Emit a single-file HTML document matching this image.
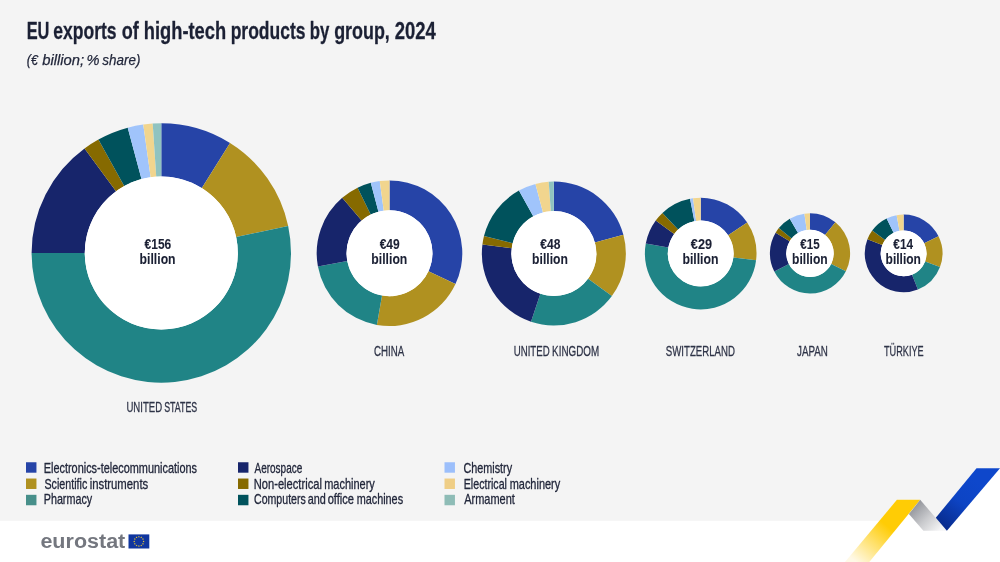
<!DOCTYPE html>
<html lang="en">
<head>
<meta charset="utf-8">
<title>EU exports of high-tech products by group, 2024</title>
<style>
html,body{margin:0;padding:0;background:#ffffff;}
body{width:1000px;height:562px;overflow:hidden;}
svg{display:block;}
svg text{font-family:"Liberation Sans",sans-serif;}
</style>
</head>
<body>
<svg width="1000" height="562" viewBox="0 0 1000 562">
<defs>
<linearGradient id="gy" gradientUnits="userSpaceOnUse" x1="886" y1="525" x2="855" y2="561">
<stop offset="0" stop-color="#FFCC05"/><stop offset="1" stop-color="#FFF9E6"/>
</linearGradient>
<linearGradient id="gg" gradientUnits="userSpaceOnUse" x1="913" y1="507" x2="938" y2="532">
<stop offset="0" stop-color="#94969C"/><stop offset="0.5" stop-color="#C9CACD"/><stop offset="1" stop-color="#F5F5F6"/>
</linearGradient>
<linearGradient id="gb" gradientUnits="userSpaceOnUse" x1="975" y1="480" x2="940" y2="526">
<stop offset="0" stop-color="#0E47CB"/><stop offset="0.45" stop-color="#0D44C4"/><stop offset="1" stop-color="#082A8A"/>
</linearGradient>
</defs>
<rect x="0" y="0" width="1000" height="562" fill="#ffffff"/>
<!-- grey chart panel, cut along the ribbon -->
<path d="M0 0H1000V468.3H976.5L935.8 517.7L920.2 499.8H896.9L879.4 520.8H0Z" fill="#F4F4F4"/>
<!-- ribbon -->
<path d="M896.9 499.8H920.2L869.3 562H845Z" fill="url(#gy)"/>
<path d="M920.2 499.8L946.9 530.7H923.4L908.9 514.1Z" fill="url(#gg)"/>
<path d="M976.5 468.3H1000L946.9 530.7L935.8 517.7Z" fill="url(#gb)"/>
<g class="donut" id="d-us">
<circle cx="161.3" cy="253.0" r="129.20" fill="#ffffff"/>
<path d="M161.30 123.30A129.70 129.70 0 0 1 230.03 143.01L201.85 188.10A76.52 76.52 0 0 0 161.30 176.48Z" fill="#2644A7"/>
<path d="M230.03 143.01A129.70 129.70 0 0 1 288.17 226.03L236.15 237.09A76.52 76.52 0 0 0 201.85 188.10Z" fill="#B09120"/>
<path d="M288.17 226.03A129.70 129.70 0 1 1 31.60 253.00L84.78 253.00A76.52 76.52 0 1 0 236.15 237.09Z" fill="#208486"/>
<path d="M31.60 253.00A129.70 129.70 0 0 1 84.52 148.47L116.00 191.33A76.52 76.52 0 0 0 84.78 253.00Z" fill="#17256B"/>
<path d="M84.52 148.47A129.70 129.70 0 0 1 98.42 139.56L124.20 186.07A76.52 76.52 0 0 0 116.00 191.33Z" fill="#866A00"/>
<path d="M98.42 139.56A129.70 129.70 0 0 1 127.73 127.72L141.49 179.08A76.52 76.52 0 0 0 124.20 186.07Z" fill="#00525C"/>
<path d="M127.73 127.72A129.70 129.70 0 0 1 143.25 124.56L150.65 177.22A76.52 76.52 0 0 0 141.49 179.08Z" fill="#A0C4FB"/>
<path d="M143.25 124.56A129.70 129.70 0 0 1 152.70 123.59L156.23 176.65A76.52 76.52 0 0 0 150.65 177.22Z" fill="#F1D58E"/>
<path d="M152.70 123.59A129.70 129.70 0 0 1 161.30 123.30L161.30 176.48A76.52 76.52 0 0 0 156.23 176.65Z" fill="#90C3C0"/>
<circle cx="161.3" cy="253.0" r="76.52" fill="#ffffff"/>
</g>
<g class="donut" id="d-cn">
<circle cx="389.5" cy="253.2" r="72.30" fill="#ffffff"/>
<path d="M389.50 180.40A72.80 72.80 0 0 1 455.48 283.97L428.43 271.35A42.95 42.95 0 0 0 389.50 210.25Z" fill="#2644A7"/>
<path d="M455.48 283.97A72.80 72.80 0 0 1 376.86 324.89L382.04 295.50A42.95 42.95 0 0 0 428.43 271.35Z" fill="#B09120"/>
<path d="M376.86 324.89A72.80 72.80 0 0 1 317.92 266.47L347.27 261.03A42.95 42.95 0 0 0 382.04 295.50Z" fill="#208486"/>
<path d="M317.92 266.47A72.80 72.80 0 0 1 342.22 197.84L361.60 220.54A42.95 42.95 0 0 0 347.27 261.03Z" fill="#17256B"/>
<path d="M342.22 197.84A72.80 72.80 0 0 1 357.59 187.77L370.67 214.59A42.95 42.95 0 0 0 361.60 220.54Z" fill="#866A00"/>
<path d="M357.59 187.77A72.80 72.80 0 0 1 370.78 182.85L378.46 211.69A42.95 42.95 0 0 0 370.67 214.59Z" fill="#00525C"/>
<path d="M370.78 182.85A72.80 72.80 0 0 1 379.75 181.06L383.75 210.64A42.95 42.95 0 0 0 378.46 211.69Z" fill="#A0C4FB"/>
<path d="M379.75 181.06A72.80 72.80 0 0 1 389.50 180.40L389.50 210.25A42.95 42.95 0 0 0 383.75 210.64Z" fill="#F1D58E"/>

<circle cx="389.5" cy="253.2" r="42.95" fill="#ffffff"/>
</g>
<g class="donut" id="d-uk">
<circle cx="553.85" cy="253.5" r="71.50" fill="#ffffff"/>
<path d="M553.85 181.50A72.00 72.00 0 0 1 623.40 234.87L594.88 242.51A42.48 42.48 0 0 0 553.85 211.02Z" fill="#2644A7"/>
<path d="M623.40 234.87A72.00 72.00 0 0 1 611.88 296.12L588.09 278.65A42.48 42.48 0 0 0 594.88 242.51Z" fill="#B09120"/>
<path d="M611.88 296.12A72.00 72.00 0 0 1 531.00 321.78L540.37 293.78A42.48 42.48 0 0 0 588.09 278.65Z" fill="#208486"/>
<path d="M531.00 321.78A72.00 72.00 0 0 1 482.42 244.48L511.70 248.18A42.48 42.48 0 0 0 540.37 293.78Z" fill="#17256B"/>
<path d="M482.42 244.48A72.00 72.00 0 0 1 483.99 236.08L512.63 243.22A42.48 42.48 0 0 0 511.70 248.18Z" fill="#866A00"/>
<path d="M483.99 236.08A72.00 72.00 0 0 1 518.94 190.53L533.26 216.35A42.48 42.48 0 0 0 512.63 243.22Z" fill="#00525C"/>
<path d="M518.94 190.53A72.00 72.00 0 0 1 535.46 183.89L543.00 212.43A42.48 42.48 0 0 0 533.26 216.35Z" fill="#A0C4FB"/>
<path d="M535.46 183.89A72.00 72.00 0 0 1 548.70 181.68L550.81 211.13A42.48 42.48 0 0 0 543.00 212.43Z" fill="#F1D58E"/>
<path d="M548.70 181.68A72.00 72.00 0 0 1 553.85 181.50L553.85 211.02A42.48 42.48 0 0 0 550.81 211.13Z" fill="#90C3C0"/>
<circle cx="553.85" cy="253.5" r="42.48" fill="#ffffff"/>
</g>
<g class="donut" id="d-ch">
<circle cx="700.7" cy="253.5" r="55.30" fill="#ffffff"/>
<path d="M700.70 197.70A55.80 55.80 0 0 1 747.18 222.62L728.12 235.28A32.92 32.92 0 0 0 700.70 220.58Z" fill="#2644A7"/>
<path d="M747.18 222.62A55.80 55.80 0 0 1 756.08 260.30L733.38 257.51A32.92 32.92 0 0 0 728.12 235.28Z" fill="#B09120"/>
<path d="M756.08 260.30A55.80 55.80 0 1 1 645.80 243.52L668.31 247.61A32.92 32.92 0 1 0 733.38 257.51Z" fill="#208486"/>
<path d="M645.80 243.52A55.80 55.80 0 0 1 655.73 220.47L674.17 234.01A32.92 32.92 0 0 0 668.31 247.61Z" fill="#17256B"/>
<path d="M655.73 220.47A55.80 55.80 0 0 1 662.43 212.89L678.12 229.54A32.92 32.92 0 0 0 674.17 234.01Z" fill="#866A00"/>
<path d="M662.43 212.89A55.80 55.80 0 0 1 690.05 198.73L694.42 221.18A32.92 32.92 0 0 0 678.12 229.54Z" fill="#00525C"/>
<path d="M690.05 198.73A55.80 55.80 0 0 1 693.03 198.23L696.18 220.89A32.92 32.92 0 0 0 694.42 221.18Z" fill="#A0C4FB"/>
<path d="M693.03 198.23A55.80 55.80 0 0 1 700.70 197.70L700.70 220.58A32.92 32.92 0 0 0 696.18 220.89Z" fill="#F1D58E"/>

<circle cx="700.7" cy="253.5" r="32.92" fill="#ffffff"/>
</g>
<g class="donut" id="d-jp">
<circle cx="810.0" cy="253.35" r="39.60" fill="#ffffff"/>
<path d="M810.00 213.25A40.10 40.10 0 0 1 835.40 222.32L824.99 235.04A23.66 23.66 0 0 0 810.00 229.69Z" fill="#2644A7"/>
<path d="M835.40 222.32A40.10 40.10 0 0 1 845.86 271.31L831.15 263.94A23.66 23.66 0 0 0 824.99 235.04Z" fill="#B09120"/>
<path d="M845.86 271.31A40.10 40.10 0 0 1 774.27 271.56L788.92 264.09A23.66 23.66 0 0 0 831.15 263.94Z" fill="#208486"/>
<path d="M774.27 271.56A40.10 40.10 0 0 1 775.63 232.70L789.72 241.16A23.66 23.66 0 0 0 788.92 264.09Z" fill="#17256B"/>
<path d="M775.63 232.70A40.10 40.10 0 0 1 778.84 228.11L791.61 238.46A23.66 23.66 0 0 0 789.72 241.16Z" fill="#866A00"/>
<path d="M778.84 228.11A40.10 40.10 0 0 1 789.77 218.73L798.06 232.92A23.66 23.66 0 0 0 791.61 238.46Z" fill="#00525C"/>
<path d="M789.77 218.73A40.10 40.10 0 0 1 804.42 213.64L806.71 229.92A23.66 23.66 0 0 0 798.06 232.92Z" fill="#A0C4FB"/>
<path d="M804.42 213.64A40.10 40.10 0 0 1 810.00 213.25L810.00 229.69A23.66 23.66 0 0 0 806.71 229.92Z" fill="#F1D58E"/>

<circle cx="810.0" cy="253.35" r="23.66" fill="#ffffff"/>
</g>
<g class="donut" id="d-tr">
<circle cx="903.6" cy="253.4" r="38.35" fill="#ffffff"/>
<path d="M903.60 214.55A38.85 38.85 0 0 1 938.52 236.37L924.20 243.35A22.92 22.92 0 0 0 903.60 230.48Z" fill="#2644A7"/>
<path d="M938.52 236.37A38.85 38.85 0 0 1 939.97 267.07L925.06 261.46A22.92 22.92 0 0 0 924.20 243.35Z" fill="#B09120"/>
<path d="M939.97 267.07A38.85 38.85 0 0 1 917.90 289.52L912.04 274.71A22.92 22.92 0 0 0 925.06 261.46Z" fill="#208486"/>
<path d="M917.90 289.52A38.85 38.85 0 0 1 867.43 239.22L882.26 245.04A22.92 22.92 0 0 0 912.04 274.71Z" fill="#17256B"/>
<path d="M867.43 239.22A38.85 38.85 0 0 1 872.21 230.51L885.08 239.89A22.92 22.92 0 0 0 882.26 245.04Z" fill="#866A00"/>
<path d="M872.21 230.51A38.85 38.85 0 0 1 886.63 218.45L893.59 232.78A22.92 22.92 0 0 0 885.08 239.89Z" fill="#00525C"/>
<path d="M886.63 218.45A38.85 38.85 0 0 1 896.65 215.18L899.50 230.85A22.92 22.92 0 0 0 893.59 232.78Z" fill="#A0C4FB"/>
<path d="M896.65 215.18A38.85 38.85 0 0 1 903.60 214.55L903.60 230.48A22.92 22.92 0 0 0 899.50 230.85Z" fill="#F1D58E"/>

<circle cx="903.6" cy="253.4" r="22.92" fill="#ffffff"/>
</g>
<g id="labels">
<text y="39.2" font-size="24" font-weight="bold" font-style="normal" fill="#1b2034" stroke="#1b2034" stroke-width="0.3" stroke-linejoin="round"><tspan x="26.64" textLength="22.77" lengthAdjust="spacingAndGlyphs">EU</tspan> <tspan x="53.28" textLength="63.35" lengthAdjust="spacingAndGlyphs">exports</tspan> <tspan x="121.79" textLength="17.03" lengthAdjust="spacingAndGlyphs">of</tspan> <tspan x="143.81" textLength="82.35" lengthAdjust="spacingAndGlyphs">high-tech</tspan> <tspan x="230.68" textLength="74.82" lengthAdjust="spacingAndGlyphs">products</tspan> <tspan x="309.72" textLength="19.62" lengthAdjust="spacingAndGlyphs">by</tspan> <tspan x="334.17" textLength="55.61" lengthAdjust="spacingAndGlyphs">group,</tspan> <tspan x="394.63" textLength="41.07" lengthAdjust="spacingAndGlyphs">2024</tspan></text>
<text y="65.2" font-size="15.1" font-weight="normal" font-style="italic" fill="#22273b" stroke="#22273b" stroke-width="0.25" stroke-linejoin="round"><tspan x="26.87" textLength="11.12" lengthAdjust="spacingAndGlyphs">(€</tspan> <tspan x="42.2" textLength="41.95" lengthAdjust="spacingAndGlyphs">billion;</tspan> <tspan x="86.46" textLength="13.02" lengthAdjust="spacingAndGlyphs">%</tspan> <tspan x="102.35" textLength="38.1" lengthAdjust="spacingAndGlyphs">share)</tspan></text>
<text y="412" font-size="15.1" font-weight="normal" font-style="normal" fill="#2e3347" stroke="#2e3347" stroke-width="0.3" stroke-linejoin="round"><tspan x="126.44" textLength="35.62" lengthAdjust="spacingAndGlyphs">UNITED</tspan> <tspan x="164.18" textLength="33.05" lengthAdjust="spacingAndGlyphs">STATES</tspan></text>
<text y="356" font-size="15.1" font-weight="normal" font-style="normal" fill="#2e3347" stroke="#2e3347" stroke-width="0.3" stroke-linejoin="round"><tspan x="374.03" textLength="30.24" lengthAdjust="spacingAndGlyphs">CHINA</tspan></text>
<text y="356" font-size="15.1" font-weight="normal" font-style="normal" fill="#2e3347" stroke="#2e3347" stroke-width="0.3" stroke-linejoin="round"><tspan x="513.7" textLength="35.94" lengthAdjust="spacingAndGlyphs">UNITED</tspan> <tspan x="552.1" textLength="46.98" lengthAdjust="spacingAndGlyphs">KINGDOM</tspan></text>
<text y="356" font-size="15.1" font-weight="normal" font-style="normal" fill="#2e3347" stroke="#2e3347" stroke-width="0.3" stroke-linejoin="round"><tspan x="665.82" textLength="69.14" lengthAdjust="spacingAndGlyphs">SWITZERLAND</tspan></text>
<text y="356" font-size="15.1" font-weight="normal" font-style="normal" fill="#2e3347" stroke="#2e3347" stroke-width="0.3" stroke-linejoin="round"><tspan x="797.11" textLength="30.81" lengthAdjust="spacingAndGlyphs">JAPAN</tspan></text>
<text y="356" font-size="15.1" font-weight="normal" font-style="normal" fill="#2e3347" stroke="#2e3347" stroke-width="0.3" stroke-linejoin="round"><tspan x="884.02" textLength="39.69" lengthAdjust="spacingAndGlyphs">TÜRKIYE</tspan></text>
<text y="249.4" font-size="14.4" font-weight="bold" font-style="normal" fill="#1b2034" stroke="#1b2034" stroke-width="0.08" stroke-linejoin="round"><tspan x="144.56" textLength="26.68" lengthAdjust="spacingAndGlyphs">€156</tspan></text>
<text y="264" font-size="14.6" font-weight="bold" font-style="normal" fill="#1b2034" stroke="#1b2034" stroke-width="0.08" stroke-linejoin="round"><tspan x="139.62" textLength="35.95" lengthAdjust="spacingAndGlyphs">billion</tspan></text>
<text y="249.4" font-size="14.4" font-weight="bold" font-style="normal" fill="#1b2034" stroke="#1b2034" stroke-width="0.08" stroke-linejoin="round"><tspan x="379.67" textLength="20.12" lengthAdjust="spacingAndGlyphs">€49</tspan></text>
<text y="264" font-size="14.6" font-weight="bold" font-style="normal" fill="#1b2034" stroke="#1b2034" stroke-width="0.08" stroke-linejoin="round"><tspan x="371.35" textLength="35.96" lengthAdjust="spacingAndGlyphs">billion</tspan></text>
<text y="249.4" font-size="14.4" font-weight="bold" font-style="normal" fill="#1b2034" stroke="#1b2034" stroke-width="0.08" stroke-linejoin="round"><tspan x="540.32" textLength="20.08" lengthAdjust="spacingAndGlyphs">€48</tspan></text>
<text y="264" font-size="14.6" font-weight="bold" font-style="normal" fill="#1b2034" stroke="#1b2034" stroke-width="0.08" stroke-linejoin="round"><tspan x="532.1" textLength="35.79" lengthAdjust="spacingAndGlyphs">billion</tspan></text>
<text y="249.4" font-size="14.4" font-weight="bold" font-style="normal" fill="#1b2034" stroke="#1b2034" stroke-width="0.08" stroke-linejoin="round"><tspan x="690.8" textLength="21.24" lengthAdjust="spacingAndGlyphs">€29</tspan></text>
<text y="264" font-size="14.6" font-weight="bold" font-style="normal" fill="#1b2034" stroke="#1b2034" stroke-width="0.08" stroke-linejoin="round"><tspan x="682.39" textLength="36.15" lengthAdjust="spacingAndGlyphs">billion</tspan></text>
<text y="249.4" font-size="14.4" font-weight="bold" font-style="normal" fill="#1b2034" stroke="#1b2034" stroke-width="0.08" stroke-linejoin="round"><tspan x="800.33" textLength="19.28" lengthAdjust="spacingAndGlyphs">€15</tspan></text>
<text y="264" font-size="14.6" font-weight="bold" font-style="normal" fill="#1b2034" stroke="#1b2034" stroke-width="0.08" stroke-linejoin="round"><tspan x="792.1" textLength="35.6" lengthAdjust="spacingAndGlyphs">billion</tspan></text>
<text y="249.4" font-size="14.4" font-weight="bold" font-style="normal" fill="#1b2034" stroke="#1b2034" stroke-width="0.08" stroke-linejoin="round"><tspan x="893.32" textLength="19.7" lengthAdjust="spacingAndGlyphs">€14</tspan></text>
<text y="264" font-size="14.6" font-weight="bold" font-style="normal" fill="#1b2034" stroke="#1b2034" stroke-width="0.08" stroke-linejoin="round"><tspan x="885.58" textLength="35.34" lengthAdjust="spacingAndGlyphs">billion</tspan></text>
</g>
<g id="legend">
<rect x="26" y="462.25" width="10.45" height="10.45" fill="#2644A7"/>
<rect x="26" y="478.53" width="10.45" height="10.45" fill="#B09120"/>
<rect x="26" y="494.81" width="10.45" height="10.45" fill="#478F8A"/>
<rect x="238" y="462.25" width="10.45" height="10.45" fill="#17256B"/>
<rect x="238" y="478.53" width="10.45" height="10.45" fill="#866A00"/>
<rect x="238" y="494.81" width="10.45" height="10.45" fill="#00525C"/>
<rect x="444.5" y="462.25" width="10.45" height="10.45" fill="#9CBFFB"/>
<rect x="444.5" y="478.53" width="10.45" height="10.45" fill="#EFCE86"/>
<rect x="444.5" y="494.81" width="10.45" height="10.45" fill="#8EBCB6"/>
<text y="473" font-size="13.9" font-weight="normal" font-style="normal" fill="#22273b" stroke="#22273b" stroke-width="0.3" stroke-linejoin="round"><tspan x="43.73" textLength="153.31" lengthAdjust="spacingAndGlyphs">Electronics-telecommunications</tspan></text>
<text y="489" font-size="13.9" font-weight="normal" font-style="normal" fill="#22273b" stroke="#22273b" stroke-width="0.3" stroke-linejoin="round"><tspan x="44.43" textLength="42.81" lengthAdjust="spacingAndGlyphs">Scientific</tspan> <tspan x="89.68" textLength="58.53" lengthAdjust="spacingAndGlyphs">instruments</tspan></text>
<text y="504" font-size="13.9" font-weight="normal" font-style="normal" fill="#22273b" stroke="#22273b" stroke-width="0.3" stroke-linejoin="round"><tspan x="43.74" textLength="48.4" lengthAdjust="spacingAndGlyphs">Pharmacy</tspan></text>
<text y="473" font-size="13.9" font-weight="normal" font-style="normal" fill="#22273b" stroke="#22273b" stroke-width="0.3" stroke-linejoin="round"><tspan x="254.48" textLength="47.82" lengthAdjust="spacingAndGlyphs">Aerospace</tspan></text>
<text y="489" font-size="13.9" font-weight="normal" font-style="normal" fill="#22273b" stroke="#22273b" stroke-width="0.3" stroke-linejoin="round"><tspan x="253.73" textLength="68.21" lengthAdjust="spacingAndGlyphs">Non-electrical</tspan> <tspan x="324.24" textLength="50.56" lengthAdjust="spacingAndGlyphs">machinery</tspan></text>
<text y="504" font-size="13.9" font-weight="normal" font-style="normal" fill="#22273b" stroke="#22273b" stroke-width="0.3" stroke-linejoin="round"><tspan x="254.0" textLength="51.8" lengthAdjust="spacingAndGlyphs">Computers</tspan> <tspan x="307.65" textLength="18.1" lengthAdjust="spacingAndGlyphs">and</tspan> <tspan x="327.64" textLength="26.45" lengthAdjust="spacingAndGlyphs">office</tspan> <tspan x="356.67" textLength="46.42" lengthAdjust="spacingAndGlyphs">machines</tspan></text>
<text y="473" font-size="13.9" font-weight="normal" font-style="normal" fill="#22273b" stroke="#22273b" stroke-width="0.3" stroke-linejoin="round"><tspan x="463.49" textLength="48.57" lengthAdjust="spacingAndGlyphs">Chemistry</tspan></text>
<text y="489" font-size="13.9" font-weight="normal" font-style="normal" fill="#22273b" stroke="#22273b" stroke-width="0.3" stroke-linejoin="round"><tspan x="463.76" textLength="43.18" lengthAdjust="spacingAndGlyphs">Electrical</tspan> <tspan x="509.69" textLength="50.49" lengthAdjust="spacingAndGlyphs">machinery</tspan></text>
<text y="504" font-size="13.9" font-weight="normal" font-style="normal" fill="#22273b" stroke="#22273b" stroke-width="0.3" stroke-linejoin="round"><tspan x="464.28" textLength="50.57" lengthAdjust="spacingAndGlyphs">Armament</tspan></text>
</g>
<g id="logo">
<text y="548.4" font-size="21.1" font-weight="bold" font-style="normal" fill="#74777F"><tspan x="40.41" textLength="84.88" lengthAdjust="spacingAndGlyphs">eurostat</tspan></text>
<rect x="128.5" y="534.4" width="20.8" height="14.1" fill="#10369F"/>
<g fill="#F6CF2B">
<polygon points="138.90,535.70 139.16,536.39 139.90,536.43 139.32,536.89 139.52,537.60 138.90,537.19 138.28,537.60 138.48,536.89 137.90,536.43 138.64,536.39"/><polygon points="141.25,536.33 141.51,537.02 142.25,537.06 141.67,537.52 141.87,538.23 141.25,537.82 140.63,538.23 140.83,537.52 140.25,537.06 140.99,537.02"/><polygon points="142.97,538.05 143.23,538.74 143.97,538.78 143.39,539.24 143.59,539.95 142.97,539.54 142.35,539.95 142.55,539.24 141.97,538.78 142.71,538.74"/><polygon points="143.60,540.40 143.86,541.09 144.60,541.13 144.02,541.59 144.22,542.30 143.60,541.89 142.98,542.30 143.18,541.59 142.60,541.13 143.34,541.09"/><polygon points="142.97,542.75 143.23,543.44 143.97,543.48 143.39,543.94 143.59,544.65 142.97,544.24 142.35,544.65 142.55,543.94 141.97,543.48 142.71,543.44"/><polygon points="141.25,544.47 141.51,545.16 142.25,545.20 141.67,545.66 141.87,546.37 141.25,545.96 140.63,546.37 140.83,545.66 140.25,545.20 140.99,545.16"/><polygon points="138.90,545.10 139.16,545.79 139.90,545.83 139.32,546.29 139.52,547.00 138.90,546.59 138.28,547.00 138.48,546.29 137.90,545.83 138.64,545.79"/><polygon points="136.55,544.47 136.81,545.16 137.55,545.20 136.97,545.66 137.17,546.37 136.55,545.96 135.93,546.37 136.13,545.66 135.55,545.20 136.29,545.16"/><polygon points="134.83,542.75 135.09,543.44 135.83,543.48 135.25,543.94 135.45,544.65 134.83,544.24 134.21,544.65 134.41,543.94 133.83,543.48 134.57,543.44"/><polygon points="134.20,540.40 134.46,541.09 135.20,541.13 134.62,541.59 134.82,542.30 134.20,541.89 133.58,542.30 133.78,541.59 133.20,541.13 133.94,541.09"/><polygon points="134.83,538.05 135.09,538.74 135.83,538.78 135.25,539.24 135.45,539.95 134.83,539.54 134.21,539.95 134.41,539.24 133.83,538.78 134.57,538.74"/><polygon points="136.55,536.33 136.81,537.02 137.55,537.06 136.97,537.52 137.17,538.23 136.55,537.82 135.93,538.23 136.13,537.52 135.55,537.06 136.29,537.02"/>
</g>
</g>
</svg>
</body>
</html>
